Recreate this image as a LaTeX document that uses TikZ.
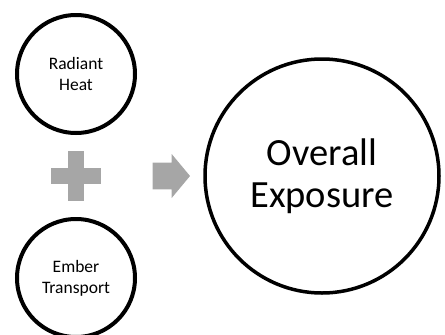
\documentclass[tikz,border=0pt]{standalone}
\usepackage{fontspec}
\setmainfont{Carlito}
\usetikzlibrary{calc}

\begin{document}
\begin{tikzpicture}[x=1pt, y=-1pt,
		smallcirc/.style={draw, circle, line width=4pt, minimum size=118pt, align=center, font=\fontsize{17.5}{21}\selectfont},
		bigcirc/.style={draw, circle, line width=3.5pt, minimum size=234pt, align=center, font=\fontsize{38.5}{42}\selectfont},
		signgray/.style={fill=black!35}]
		%%%%% START %%%%%
		
		\useasboundingbox (0, 0) rectangle (445, 335);
		
		\node[smallcirc] (heat) at (76, 74) {Radiant\\Heat};
		\node[smallcirc] (ember) at (76, 278) {Ember\\Transport};
		\node[bigcirc] (exposure) at (322, 176) {Overall\\Exposure};
		
		% plus sign
		\coordinate (plus) at ($(heat)!0.5!(ember)$);
		\fill[signgray] ($(plus)+(-25, -8.3)$) rectangle ($(plus)+(25, 8.3)$);
		\fill[signgray] ($(plus)+(-8.3, -25)$) rectangle ($(plus)+(8.3, 25)$);
		
		% arrow
		\coordinate (arrow) at (152.7, 176);
		\fill[signgray] (arrow) ++(0, -13.3) -- ++(19, 0) -- ++(0, -8.7) -- ++(18.3, 22) -- ++(-18.3, 22) -- ++(0, -8.7) -- ++(-19, 0) -- cycle;
		
		%%%%% END %%%%%
	\end{tikzpicture}
\end{document}
